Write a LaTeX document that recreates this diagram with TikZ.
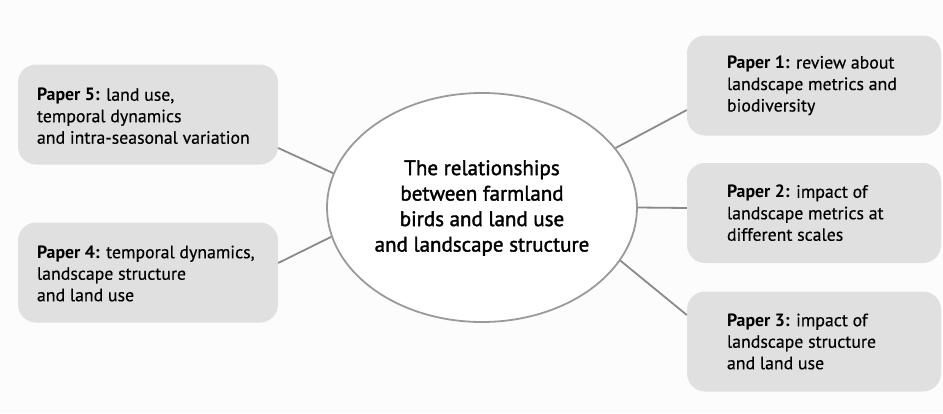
\documentclass[tikz,border=0pt]{standalone}
\usepackage{fontspec}
\setmainfont{PT Sans}[UprightFeatures={FakeBold=0.4}]
\newfontfamily\hubfont{PT Sans}[FakeBold=1.6]
\usetikzlibrary{shapes.geometric}
\definecolor{pagebg}{HTML}{FCFCFC}
\definecolor{boxfill}{HTML}{E0E0E0}
\definecolor{linkgray}{HTML}{8A8A8A}
\definecolor{rimgray}{HTML}{9A9A9A}
\begin{document}
\begin{tikzpicture}[x=1pt,y=-1pt,
  paperbox/.style={rectangle, rounded corners=18pt, fill=boxfill, draw=none,
    minimum width=#1, minimum height=100pt, inner sep=0pt},
  papertext/.style={anchor=west, align=left, inner sep=0pt,
    font=\fontsize{17.8}{21.5}\selectfont, text=black},
  hubtext/.style={align=center, inner sep=0pt,
    font=\hubfont\fontsize{21}{25.5}\selectfont, text=black},
  hub/.style={ellipse, draw=rimgray, line width=1.8pt, fill=white,
    minimum width=310pt, minimum height=229pt, inner sep=0pt},
  link/.style={draw=linkgray, line width=1.8pt}]
\useasboundingbox (0,0) rectangle (943,413);
\fill[pagebg] (0,0) rectangle (943,413);

% central topic
\node[hub] (hub) at (482,207.5) {};
\node[hubtext] (hubtxt) at (482,208) {The relationships\\between farmland\\birds and land use\\and landscape structure};

% papers on the left
\node[paperbox=260pt] (p5) at (148,114.5) {};
\node[papertext] (t5) at ([xshift=19pt,yshift=-1.5pt]p5.west) {\textbf{Paper 5:} land use,\\temporal dynamics\\and intra-seasonal variation};
\node[paperbox=260pt] (p4) at (148,272.5) {};
\node[papertext] (t4) at ([xshift=19pt,yshift=-1pt]p4.west) {\textbf{Paper 4:} temporal dynamics,\\landscape structure\\and land use};

% papers on the right
\node[paperbox=254pt] (p1) at (814,85.5) {};
\node[papertext] (t1) at ([xshift=40pt]p1.west) {\textbf{Paper 1:} review about\\landscape metrics and\\biodiversity};
\node[paperbox=254pt] (p2) at (814,213) {};
\node[papertext] (t2) at ([xshift=40pt]p2.west) {\textbf{Paper 2:} impact of\\landscape metrics at\\different scales};
\node[paperbox=254pt] (p3) at (814,341.5) {};
\node[papertext] (t3) at ([xshift=40pt]p3.west) {\textbf{Paper 3:} impact of\\landscape structure\\and land use};

% connectors
\draw[link] ([yshift=-33.5pt]p5.east) -- (hub.167.6);
\draw[link] ([yshift=9.5pt]p4.east) -- (hub.191.1);
\draw[link] (hub.24.5) -- ([yshift=-24.5pt]p1.west);
\draw[link] (hub.0) -- ([yshift=5pt]p2.west);
\draw[link] (hub.339.4) -- ([yshift=26.5pt]p3.west);
\end{tikzpicture}
\end{document}
